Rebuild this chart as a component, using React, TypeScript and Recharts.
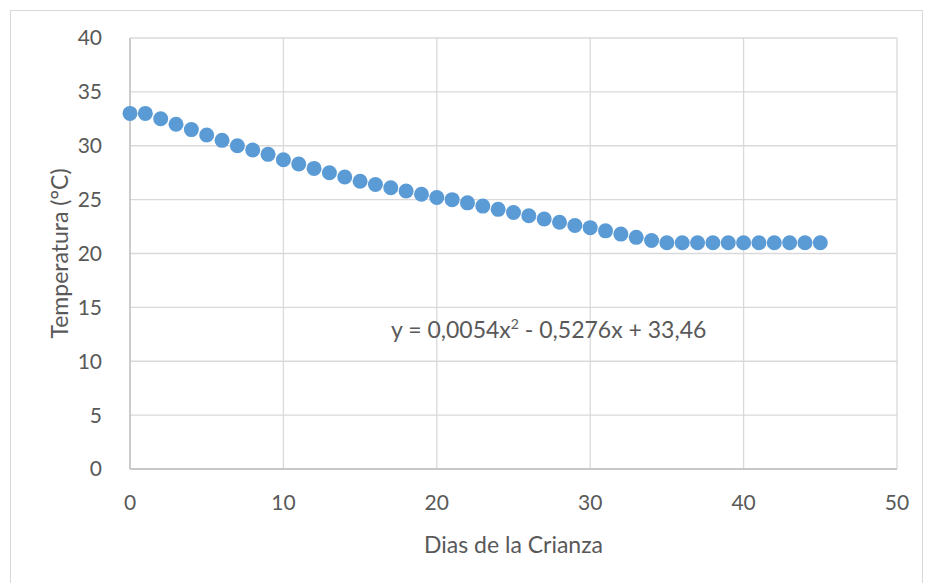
import * as React from 'react'
import { ScatterChart, Scatter, XAxis, YAxis, CartesianGrid } from 'recharts'

// Days of rearing and temperature
const dias = [
  0, 1, 2, 3, 4, 5, 6, 7, 8, 9, 10, 11, 12, 13, 14, 15, 16, 17, 18, 19, 20, 21, 22,
  23, 24, 25, 26, 27, 28, 29, 30, 31, 32, 33, 34, 35, 36, 37, 38, 39, 40, 41, 42, 43, 44, 45,
]
const temperatura = [
  33, 33, 32.5, 32, 31.5, 31, 30.5, 30, 29.6, 29.2, 28.7, 28.3, 27.9, 27.5, 27.1, 26.7,
  26.4, 26.1, 25.8, 25.5, 25.2, 25.0, 24.7, 24.4, 24.1, 23.8, 23.5, 23.2, 22.9, 22.6,
  22.4, 22.1, 21.8, 21.5, 21.2, 21, 21, 21, 21, 21, 21, 21, 21, 21, 21, 21,
]
const xTicks = [0, 10, 20, 30, 40, 50]
const yTicks = [0, 5, 10, 15, 20, 25, 30, 35, 40]

const points = dias.map((d, i) => ({ x: d, y: temperatura[i] }))

const FONT = 'Lato, "Open Sans", sans-serif'
const textColor = '#595959'

export default function App() {
  return (
    <div
      style={{
        position: 'absolute',
        left: 0,
        top: 0,
        width: 925,
        height: 583,
        background: '#fff',
        fontFamily: FONT,
      }}
    >
      <div
        style={{
          position: 'absolute',
          left: 10,
          top: 10,
          width: 911,
          height: 580,
          border: '1px solid #d9d9d9',
        }}
      />
      <ScatterChart
        width={925}
        height={583}
        margin={{ top: 38, right: 28, left: 70, bottom: 74 }}
      >
        <CartesianGrid stroke="#d9d9d9" strokeWidth={1.3} />
        <XAxis
          type="number"
          dataKey="x"
          domain={[0, 50]}
          ticks={xTicks}
          height={40}
          tickLine={false}
          axisLine={{ stroke: '#bfbfbf', strokeWidth: 1.3 }}
          tickMargin={20}
          tick={{ fill: textColor, fontSize: 21, fontFamily: FONT }}
          label={{
            value: 'Dias de la Crianza',
            position: 'insideBottom',
            offset: -44,
            fill: textColor,
            fontSize: 23,
            fontFamily: FONT,
          }}
        />
        <YAxis
          type="number"
          dataKey="y"
          domain={[0, 40]}
          ticks={yTicks}
          width={60}
          tickLine={false}
          axisLine={{ stroke: '#bfbfbf', strokeWidth: 1.3 }}
          tickMargin={22}
          tick={{ fill: textColor, fontSize: 21, fontFamily: FONT }}
          label={{
            value: 'Temperatura (°C)',
            angle: -90,
            position: 'insideLeft',
            offset: -10,
            style: { textAnchor: 'middle' },
            fill: textColor,
            fontSize: 23,
            fontFamily: FONT,
          }}
        />
        <Scatter
          data={points}
          fill="#5b9bd5"
          isAnimationActive={false}
          shape={(p: any) => <circle cx={p.cx} cy={p.cy} r={7.5} fill="#5b9bd5" />}
        />
      </ScatterChart>
      <div
        style={{
          position: 'absolute',
          left: 391,
          top: 315,
          fontSize: 23,
          color: textColor,
          whiteSpace: 'nowrap',
        }}
      >
        y = 0,0054x<sup style={{ fontSize: 14 }}>2</sup> - 0,5276x + 33,46
      </div>
    </div>
  )
}
